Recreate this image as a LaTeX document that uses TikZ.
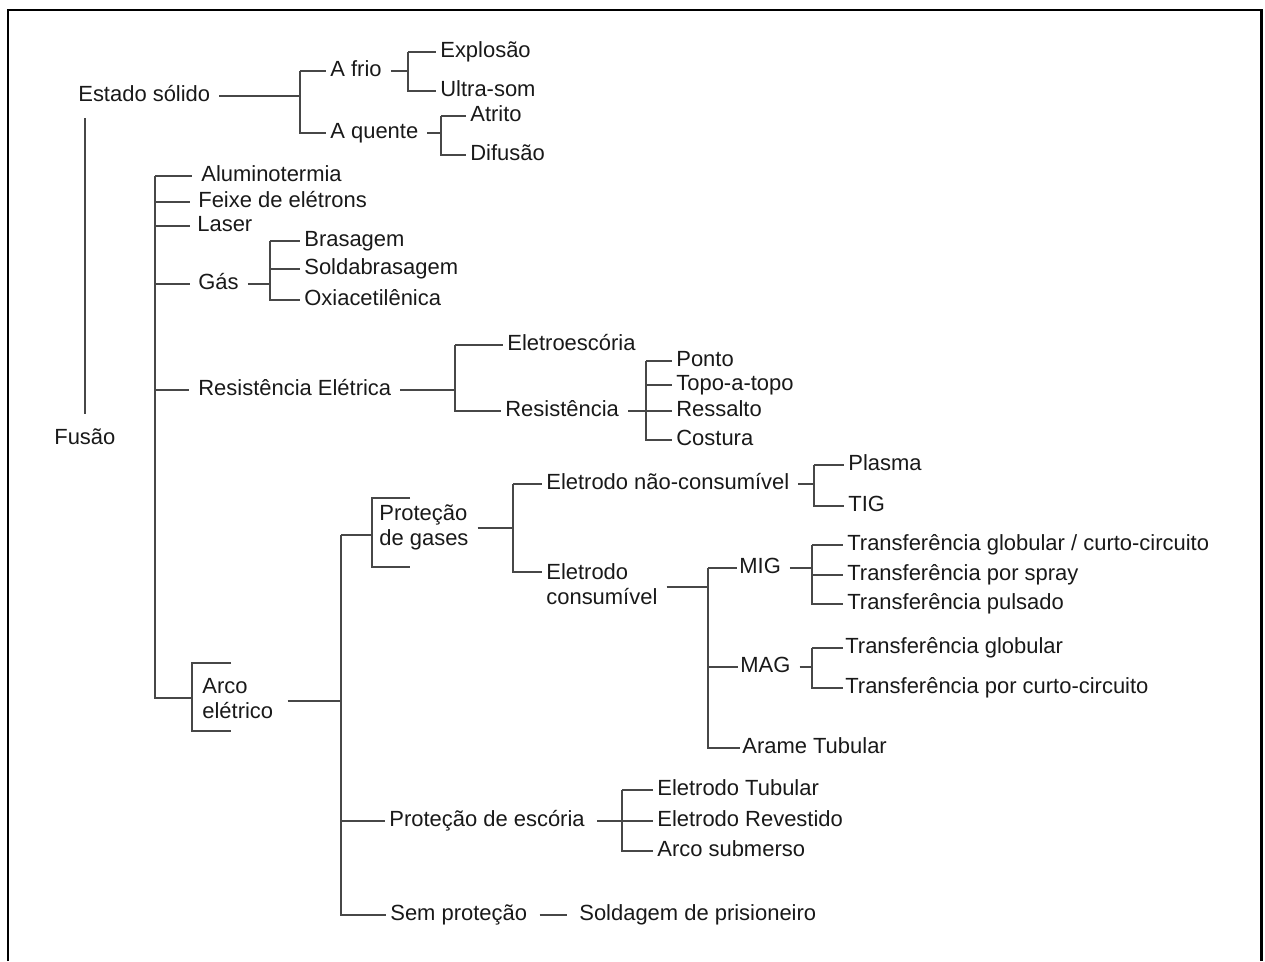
\documentclass[tikz,border=0pt]{standalone}
\usepackage{fontspec}
\setmainfont{Liberation Sans}
\usetikzlibrary{calc}

\begin{document}
\begin{tikzpicture}[
    x=0.02cm, y=-0.02cm,
    font=\fontsize{12.5pt}{14.2pt}\selectfont,
    % Estilos de rótulos e ramos
    rotulo/.style={anchor=west, inner sep=0pt, text height=9pt, text depth=2.5pt, text=black!90},
    bloco/.style={anchor=west, inner sep=0pt, align=left, text=black!90},
    ramo/.style={draw=black!72, line width=1.1pt},
    saida/.style={ramo, shorten <=5pt},
    entrada/.style={ramo, shorten >=2.3pt},
    moldura/.style={draw=black, line width=1.7pt}
]

\useasboundingbox (0,0) rectangle (1265,961);
\draw[moldura] (8,961) -- (8,10) -- (1261,10) -- (1261,961);

% -------------------------
% ESTADO SÓLIDO
% -------------------------
\node[rotulo] (estado) at (78,96) {Estado sólido};
\node[rotulo] (frio) at (330,71) {A frio};
\node[rotulo] (quente) at (330,133) {A quente};
\node[rotulo] (explosao) at (440,52) {Explosão};
\node[rotulo] (ultrasom) at (440,91) {Ultra-som};
\node[rotulo] (atrito) at (470,116) {Atrito};
\node[rotulo] (difusao) at (470,155) {Difusão};

\coordinate (jEstado) at (300,71);
\coordinate (jFrio) at (408,52);
\coordinate (jQuente) at (441,116);

\draw[saida] (estado.east) -- (estado.east -| jEstado);
\draw[entrada] (jEstado) |- (frio.west);
\draw[entrada] (jEstado) |- (quente.west);
\draw[saida] (frio.east) -- (frio.east -| jFrio);
\draw[entrada] (jFrio) |- (explosao.west);
\draw[entrada] (jFrio) |- (ultrasom.west);
\draw[saida] (quente.east) -- (quente.east -| jQuente);
\draw[entrada] (jQuente) |- (atrito.west);
\draw[entrada] (jQuente) |- (difusao.west);

% -------------------------
% FUSÃO
% -------------------------
\node[rotulo] (fusao) at (54,439) {Fusão};
\draw[ramo, shorten <=8.5pt, shorten >=6.5pt] (fusao.north) -- (fusao.north |- estado.south);

\coordinate (jFusao) at (155,176);

\node[rotulo] (alumino) at (201,176) {Aluminotermia};
\node[rotulo] (feixe) at (198,202) {Feixe de elétrons};
\node[rotulo] (laser) at (197,226) {Laser};
\node[rotulo] (gas) at (198,284) {Gás};
\node[rotulo] (reseletrica) at (198,390) {Resistência Elétrica};

\draw[ramo, shorten >=5pt] (jFusao) |- (alumino.west);
\draw[ramo, shorten >=4.5pt] (jFusao) |- (feixe.west);
\draw[ramo, shorten >=4pt] (jFusao) |- (laser.west);
\draw[ramo, shorten >=4.5pt] (jFusao) |- (gas.west);
\draw[ramo, shorten >=5pt] (jFusao) |- (reseletrica.west);

% Gás
\node[rotulo] (brasagem) at (304,241) {Brasagem};
\node[rotulo] (soldabras) at (304,269) {Soldabrasagem};
\node[rotulo] (oxi) at (304,300) {Oxiacetilênica};

\coordinate (jGas) at (270,241);
\draw[saida] (gas.east) -- (gas.east -| jGas);
\draw[entrada] (jGas) |- (brasagem.west);
\draw[entrada] (jGas) |- (soldabras.west);
\draw[entrada] (jGas) |- (oxi.west);

% Resistência elétrica
\node[rotulo] (eletroesc) at (507,345) {Eletroescória};
\node[rotulo] (resist) at (505,411) {Resistência};
\node[rotulo] (ponto) at (676,361) {Ponto};
\node[rotulo] (topo) at (676,385) {Topo-a-topo};
\node[rotulo] (ressalto) at (676,411) {Ressalto};
\node[rotulo] (costura) at (676,440) {Costura};

\coordinate (jResEl) at (455,345);
\coordinate (jResist) at (646,361);
\draw[saida] (reseletrica.east) -- (reseletrica.east -| jResEl);
\draw[entrada] (jResEl) |- (eletroesc.west);
\draw[entrada] (jResEl) |- (resist.west);
\draw[saida] (resist.east) -- (resist.east -| jResist);
\draw[entrada] (jResist) |- (ponto.west);
\draw[entrada] (jResist) |- (topo.west);
\draw[entrada] (jResist) |- (ressalto.west);
\draw[entrada] (jResist) |- (costura.west);

% -------------------------
% ARCO ELÉTRICO
% -------------------------
\node[bloco] (arco) at (202,701) {\strut Arco\\\strut elétrico};
\draw[ramo] ($(arco.west)+(29,-38)$) -| ($(arco.west)+(-10,0)$) |- ($(arco.west)+(29,30)$);
\coordinate (arcoEsq) at ($(arco.west)+(-10,-3)$);
\draw[ramo] (jFusao) |- (arcoEsq);

\coordinate (jArco) at (341,535);
\draw[ramo, shorten <=8pt] (arco.east) -- (arco.east -| jArco);

% Proteção de gases
\node[bloco] (gases) at (379,528) {\strut Proteção\\\strut de gases};
\draw[ramo] ($(gases.west)+(31,-30)$) -| ($(gases.west)+(-7,0)$) |- ($(gases.west)+(31,39)$);
\coordinate (gasesEsq) at ($(gases.west)+(-7,7)$);
\draw[ramo] (jArco) |- (gasesEsq);

\coordinate (jGases) at (513,484);
\node[rotulo] (naocons) at (546,484) {Eletrodo não-consumível};
\node[bloco] (consumivel) at (546,587) {\strut Eletrodo\\\strut consumível};
\draw[saida] (gases.east) -- (gases.east -| jGases);
\draw[entrada] (jGases) |- (naocons.west);
\draw[entrada] (jGases) |- ($(consumivel.west)+(0,-15)$);

% Eletrodo não-consumível
\coordinate (jNaoCons) at (814,465);
\node[rotulo] (plasma) at (848,465) {Plasma};
\node[rotulo] (tig) at (848,506) {TIG};
\draw[saida] (naocons.east) -- (naocons.east -| jNaoCons);
\draw[entrada] (jNaoCons) |- (plasma.west);
\draw[entrada] (jNaoCons) |- (tig.west);

% Eletrodo consumível
\coordinate (jCons) at (708,568);
\node[rotulo] (mig) at (739,568) {MIG};
\node[rotulo] (mag) at (740,667) {MAG};
\node[rotulo] (arame) at (742,748) {Arame Tubular};
\draw[saida] (consumivel.east) -- (consumivel.east -| jCons);
\draw[ramo, shorten >=1pt] (jCons) |- (mig.west);
\draw[ramo, shorten >=1pt] (jCons) |- (mag.west);
\draw[ramo, shorten >=1pt] (jCons) |- (arame.west);

% MIG
\coordinate (jMig) at (812,545);
\node[rotulo] (tglobcurto) at (847,545) {Transferência globular / curto-circuito};
\node[rotulo] (tspray) at (847,575) {Transferência por spray};
\node[rotulo] (tpulsado) at (847,604) {Transferência pulsado};
\draw[saida] (mig.east) -- (mig.east -| jMig);
\draw[entrada] (jMig) |- (tglobcurto.west);
\draw[entrada] (jMig) |- (tspray.west);
\draw[entrada] (jMig) |- (tpulsado.west);

% MAG
\coordinate (jMag) at (812,648);
\node[rotulo] (tglob) at (845,648) {Transferência globular};
\node[rotulo] (tcurto) at (845,688) {Transferência por curto-circuito};
\draw[saida] (mag.east) -- (mag.east -| jMag);
\draw[ramo, shorten >=1pt] (jMag) |- (tglob.west);
\draw[ramo, shorten >=1pt] (jMag) |- (tcurto.west);

% Proteção de escória
\node[rotulo] (escoria) at (389,821) {Proteção de escória};
\draw[ramo, shorten >=2.5pt] (jArco) |- (escoria.west);

\coordinate (jEscoria) at (622,790);
\node[rotulo] (etubular) at (657,790) {Eletrodo Tubular};
\node[rotulo] (erevestido) at (657,821) {Eletrodo Revestido};
\node[rotulo] (asubmerso) at (657,851) {Arco submerso};
\draw[ramo, shorten <=7pt] (escoria.east) -- (escoria.east -| jEscoria);
\draw[entrada] (jEscoria) |- (etubular.west);
\draw[entrada] (jEscoria) |- (erevestido.west);
\draw[entrada] (jEscoria) |- (asubmerso.west);

% Sem proteção
\node[rotulo] (semprot) at (390,915) {Sem proteção};
\node[rotulo] (prisioneiro) at (579,915) {Soldagem de prisioneiro};
\draw[ramo, shorten >=2.5pt] (jArco) |- (semprot.west);
\draw[ramo, shorten <=7pt, shorten >=7pt] (semprot.east) -- (prisioneiro.west);

\end{tikzpicture}
\end{document}
